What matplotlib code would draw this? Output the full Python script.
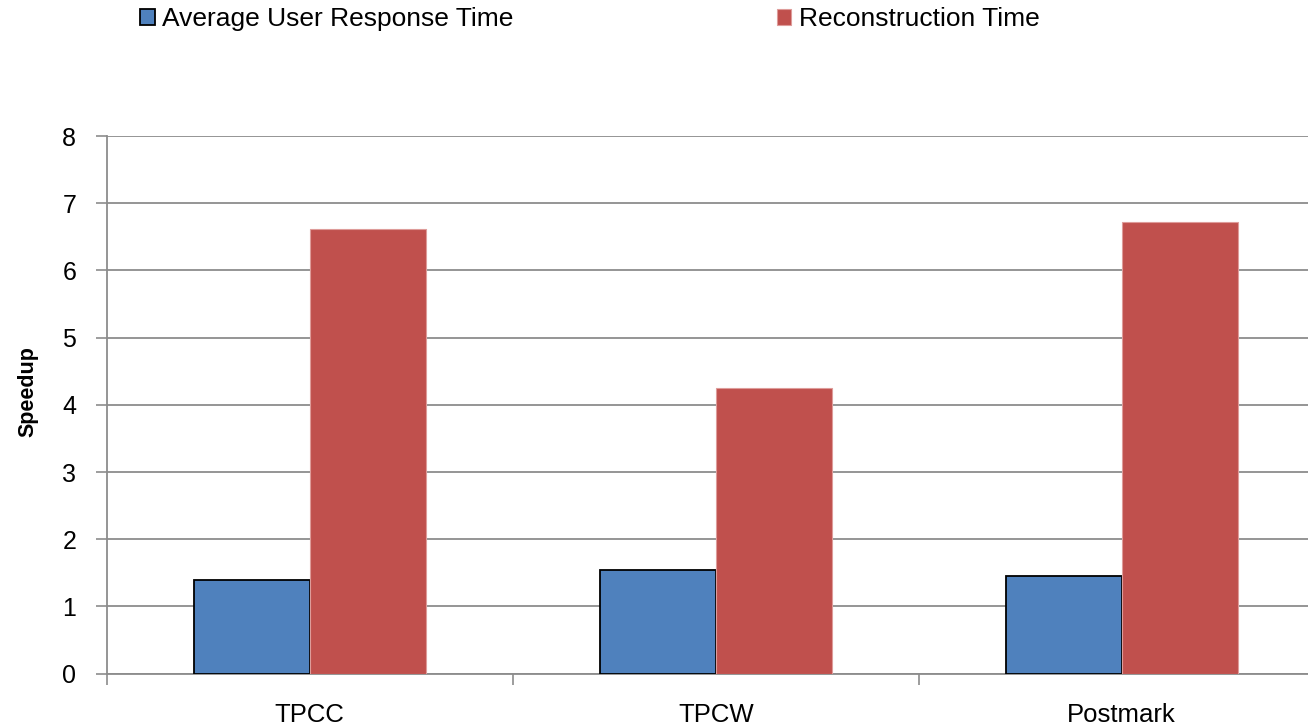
import matplotlib.pyplot as plt
import numpy as np

plt.rcParams["font.family"] = ["Liberation Sans", "DejaVu Sans"]

categories = ["TPCC", "TPCW", "Postmark"]
series_names = ["Average User Response Time", "Reconstruction Time"]
response_speedup = [1.39, 1.54, 1.46]
reconstruction_speedup = [6.61, 4.25, 6.72]
y_ticks = [0, 1, 2, 3, 4, 5, 6, 7, 8]

blue = "#4F81BD"
red = "#C0504D"
grid_gray = "#8C8C8C"

fig = plt.figure(figsize=(13.08, 7.27), dpi=100)
# plot area runs a little past the right edge of the canvas
ax = fig.add_axes([0.0816, 0.0733, 0.9312, 0.7396])

centers = np.arange(len(categories)) + 0.5
width = 0.2857
b1 = ax.bar(centers - width / 2, response_speedup, width, color=blue,
            edgecolor="black", linewidth=1.3, label=series_names[0], zorder=3)
b2 = ax.bar(centers + width / 2, reconstruction_speedup, width, color=red,
            edgecolor="#DE9C9A", linewidth=0.8, label=series_names[1], zorder=3)

ax.set_xlim(0, len(categories))
ax.set_ylim(0, 8)
ax.set_yticks(y_ticks)
ax.yaxis.grid(True, color=grid_gray, linewidth=1.3)
ax.set_axisbelow(True)

ax.set_xticks(np.arange(len(categories) + 1))
ax.set_xticklabels([])
ax.set_xticks(centers, minor=True)
ax.set_xticklabels(categories, minor=True)
ax.tick_params(axis="x", which="minor", length=0, pad=21, labelsize=18.5)
ax.tick_params(axis="x", which="major", length=8, width=1.2, color=grid_gray)
ax.tick_params(axis="y", length=8, width=1.2, color=grid_gray, labelsize=18, pad=14)

for side in ["top", "right"]:
    ax.spines[side].set_visible(False)
for side in ["left", "bottom"]:
    ax.spines[side].set_color(grid_gray)
    ax.spines[side].set_linewidth(1.3)

fig.text(28 / 1308, 1 - 392 / 727, "Speedup", rotation=90, ha="center",
         va="center", fontsize=15.5, fontweight="bold")

fig.legend(handles=[b1, b2], loc="upper left",
           bbox_to_anchor=(140 / 1308, 1 - 7 / 727), ncol=2, frameon=False,
           fontsize=19, handlelength=0.55, handleheight=0.55, handletextpad=0.27,
           columnspacing=10.0, borderpad=0, borderaxespad=0)

fig.savefig("out.png", dpi=100)
